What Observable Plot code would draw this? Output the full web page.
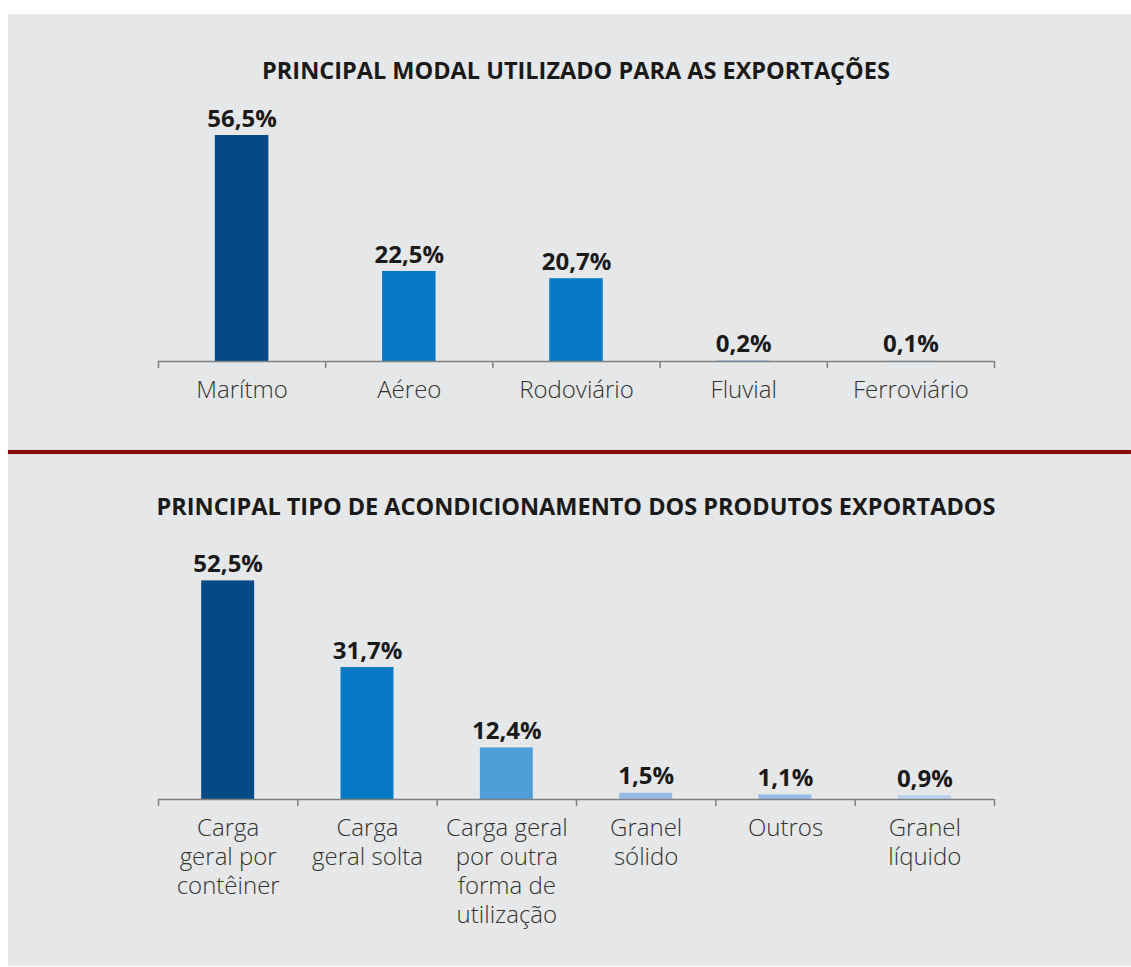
<!DOCTYPE html>
<html><head><meta charset="utf-8">
<script src="https://cdn.jsdelivr.net/npm/d3@7"></script>
<script src="https://cdn.jsdelivr.net/npm/@observablehq/plot@0.6"></script>
<style>
body{margin:0;background:#fff;font-family:"Open Sans",sans-serif;}
#panel{position:absolute;left:8px;top:14px;width:1123px;height:952px;background:#e6e7e8;}
.title{position:absolute;left:8px;width:1120px;text-align:center;font-weight:700;font-size:23.5px;line-height:23.5px;color:#1a1a1a;white-space:nowrap;}
#divider{position:absolute;left:0;width:1123px;top:436px;height:4px;background:#8a0c0c;box-shadow:0 0 1px #c06060;}
.chart{position:absolute;left:0;}
</style></head><body>
<div id="panel">
<div class="title" style="top:45px">PRINCIPAL MODAL UTILIZADO PARA AS EXPORTAÇÕES</div>
<div id="divider"></div>
<div class="title" style="top:481px">PRINCIPAL TIPO DE ACONDICIONAMENTO DOS PRODUTOS EXPORTADOS</div>
<div class="chart" id="c1" style="top:86px"></div>
<div class="chart" id="c2" style="top:534px"></div>
</div>
<script>
const modalCategories = ["Marítmo", "Aéreo", "Rodoviário", "Fluvial", "Ferroviário"];
const modalValues = [56.5, 22.5, 20.7, 0.2, 0.1];
const modalColors = ["#034a86", "#0579c3", "#0579c3", "#a9c9ec", "#a9c9ec"];

const packCategories = ["Carga\ngeral por\ncontêiner", "Carga\ngeral solta", "Carga geral\npor outra\nforma de\nutilização", "Granel\nsólido", "Outros", "Granel\nlíquido"];
const packValues = [52.5, 31.7, 12.4, 1.5, 1.1, 0.9];
const packColors = ["#034a86", "#0579c3", "#509ed8", "#93bbe6", "#93bbe6", "#b7d1ef"];

function fmt(v) { return v.toFixed(1).replace(".", ",") + "%"; }

function barChart({categories, values, colors, yMax, height, marginTop, marginBottom, halfWidth}) {
  const n = categories.length;
  const data = categories.map((c, i) => ({i, c, v: values[i], color: colors[i], label: fmt(values[i])}));
  const bounds = d3.range(-0.5, n);
  const plotH = height - marginTop - marginBottom;
  return Plot.plot({
    width: 1123, height, marginLeft: 150, marginRight: 137, marginTop, marginBottom,
    style: {background: "transparent", fontFamily: "'Open Sans', sans-serif", overflow: "visible"},
    x: {type: "linear", domain: [-0.5, n - 0.5], axis: null},
    y: {domain: [0, yMax], axis: null},
    color: {type: "identity"},
    marks: [
      Plot.rectY(data, {x1: d => d.i - halfWidth, x2: d => d.i + halfWidth, y1: 0, y2: "v", fill: "color"}),
      Plot.ruleY([0], {stroke: "#808080", strokeWidth: 1.5}),
      Plot.ruleX(bounds, {x: d => d, stroke: "#808080", strokeWidth: 1.5, insetTop: plotH, insetBottom: -7}),
      Plot.text(data, {x: "i", y: "v", text: "label", lineAnchor: "bottom", dy: -9, fontSize: 24, fontWeight: 700, fill: "#1a1a1a"}),
      Plot.text(data, {x: "i", y: 0, text: "c", lineAnchor: "top", dy: 16, fontSize: 24, fontWeight: 300, fill: "#333", lineHeight: 1.21})
    ]
  });
}

document.getElementById("c1").append(barChart({
  categories: modalCategories, values: modalValues, colors: modalColors,
  yMax: 60, height: 311, marginTop: 21, marginBottom: 50, halfWidth: 0.16
}));
document.getElementById("c2").append(barChart({
  categories: packCategories, values: packValues, colors: packColors,
  yMax: 55, height: 381, marginTop: 22, marginBottom: 130, halfWidth: 0.19
}));
</script>
</body></html>
